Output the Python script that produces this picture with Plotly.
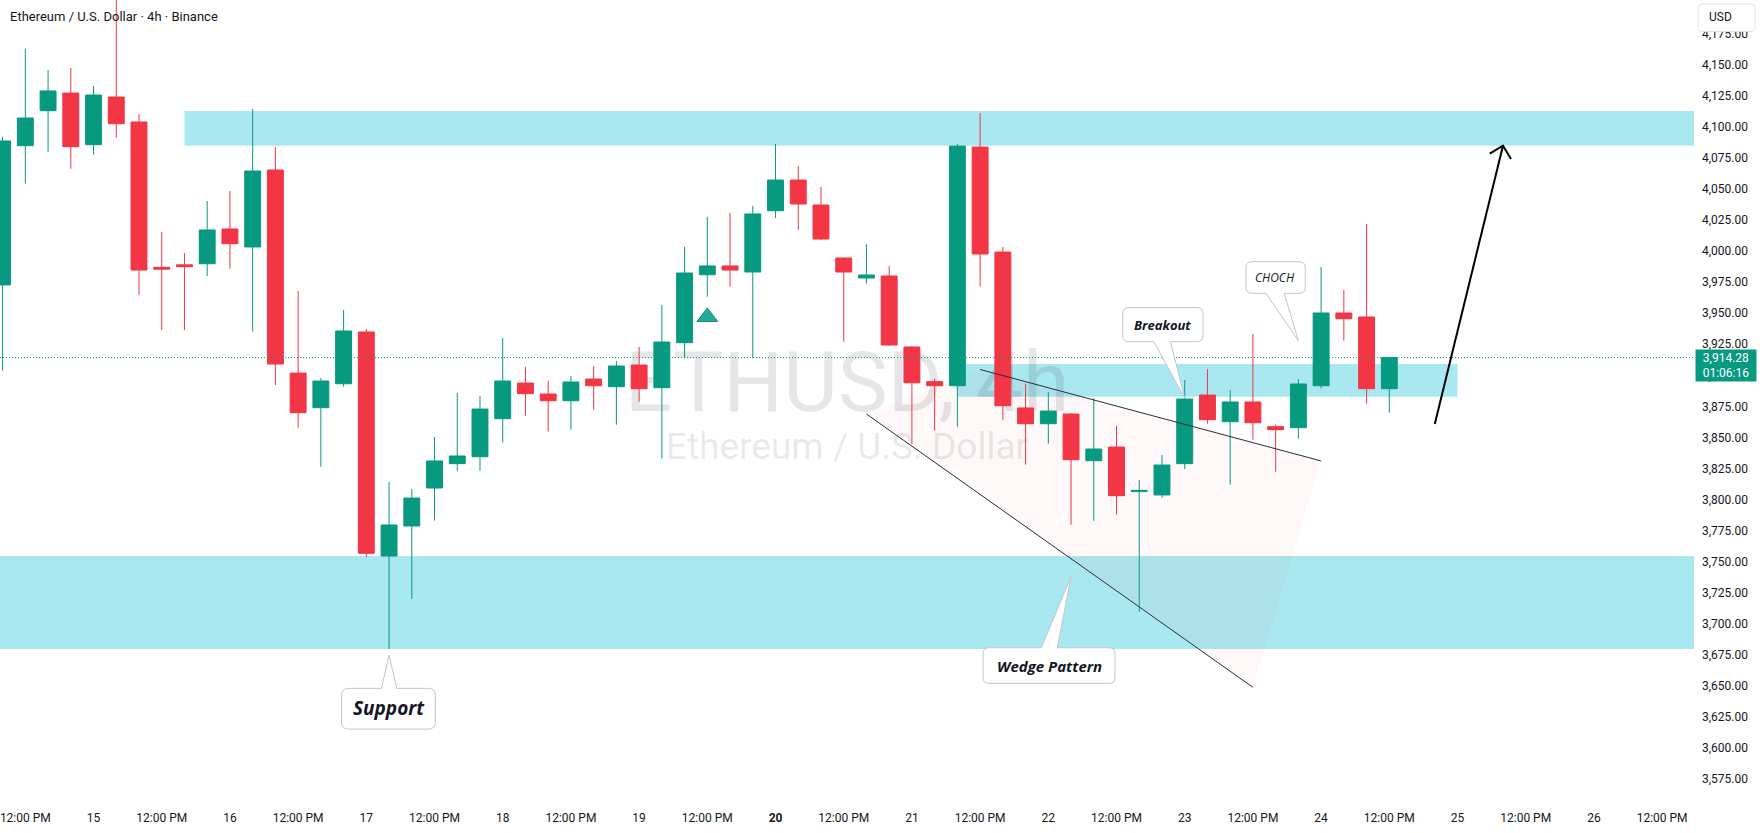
import math
import pandas as pd
import plotly.graph_objects as go

# ------------------------------------------------------------------ data
start_time = "2025-10-14 08:00"      # first (partly visible) 4h candle
bar_hours = 4

opens = [3972.8, 4085.0, 4113.2, 4127.4, 4085.8, 4124.2, 4104.1, 3987.0, 3989.0, 3989.9,
         4017.9, 4003.4, 4065.4, 3901.8, 3873.9, 3893.2, 3934.9, 3754.4, 3778.6, 3809.2,
         3828.8, 3834.4, 3865.0, 3893.8, 3884.9, 3879.5, 3897.0, 3890.8, 3908.3, 3890.0,
         3926.3, 3981.0, 3988.1, 3983.2, 4032.6, 4057.3, 4037.2, 3994.5, 3978.4, 3980.0,
         3922.8, 3894.9, 3891.6, 4083.9, 3999.3, 3873.7, 3861.0, 3868.8, 3831.2, 3842.2,
         3806.3, 3803.6, 3828.8, 3884.1, 3862.6, 3878.5, 3858.6, 3857.8, 3891.6, 3950.2,
         3947.0, 3889.2]
highs = [4092.2, 4162.9, 4146.0, 4147.6, 4133.1, 4215.0, 4110.5, 4015.5, 3998.5, 4040.4,
         4048.5, 4114.6, 4083.9, 3967.9, 3897.8, 3952.6, 3937.3, 3814.0, 3808.4, 3850.3,
         3885.7, 3883.3, 3930.1, 3906.7, 3895.4, 3899.4, 3907.5, 3911.5, 3922.8, 3956.6,
         4003.4, 4027.5, 4030.8, 4036.4, 4086.4, 4068.6, 4051.7, 3995.0, 4005.8, 3988.1,
         3923.6, 3897.3, 4086.4, 4111.3, 4003.4, 3893.2, 3886.5, 3869.5, 3881.7, 3859.4,
         3815.6, 3835.8, 3896.2, 3905.1, 3888.1, 3933.3, 3860.2, 3897.0, 3987.3, 3968.7,
         4021.9, 3914.7]
lows = [3903.7, 4054.4, 4080.1, 4066.5, 4077.7, 4091.4, 3964.7, 3936.5, 3936.5, 3980.0,
        3985.9, 3935.1, 3892.2, 3857.8, 3826.4, 3890.8, 3753.4, 3679.5, 3719.8, 3782.9,
        3822.9, 3822.9, 3845.7, 3867.5, 3854.6, 3856.2, 3872.3, 3860.2, 3878.7, 3832.8,
        3913.7, 3963.3, 3971.4, 3913.7, 4026.7, 4017.1, 4009.0, 3927.1, 3974.1, 3923.6,
        3844.4, 3855.4, 3858.6, 3971.4, 3864.2, 3828.0, 3844.9, 3779.6, 3782.8, 3787.7,
        3709.5, 3801.4, 3824.5, 3861.0, 3811.9, 3848.1, 3822.3, 3848.9, 3889.5, 3927.9,
        3877.1, 3869.9]
closes = [4088.8, 4107.3, 4129.1, 4084.2, 4125.8, 4102.7, 3984.8, 3985.5, 3987.5, 4017.1,
          4006.0, 4064.6, 3909.1, 3869.9, 3895.4, 3935.7, 3756.6, 3779.4, 3801.1, 3831.0,
          3835.0, 3872.8, 3895.4, 3885.2, 3879.5, 3894.6, 3891.6, 3907.5, 3889.2, 3926.8,
          3982.4, 3988.1, 3984.8, 4030.0, 4057.3, 4038.0, 4009.8, 3983.2, 3980.8, 3924.4,
          3894.0, 3891.6, 4084.7, 3997.7, 3875.5, 3861.0, 3871.2, 3832.0, 3840.6, 3803.0,
          3807.3, 3827.7, 3880.9, 3864.2, 3878.5, 3861.8, 3856.2, 3893.0, 3950.2, 3945.6,
          3889.2, 3914.28]

x_tick_bars = [1, 4, 7, 10, 13, 16, 19, 22, 25, 28, 31, 34, 37, 40, 43, 46, 49, 52, 55, 58,
               61, 64, 67, 70, 73]
x_tick_labels = ["12:00 PM", "15", "12:00 PM", "16", "12:00 PM", "17", "12:00 PM", "18",
                 "12:00 PM", "19", "12:00 PM", "<b>20</b>", "12:00 PM", "21", "12:00 PM", "22",
                 "12:00 PM", "23", "12:00 PM", "24", "12:00 PM", "25", "12:00 PM", "26",
                 "12:00 PM"]
price_ticks = [3575, 3600, 3625, 3650, 3675, 3700, 3725, 3750, 3775, 3800, 3825, 3850, 3875,
               3900, 3925, 3950, 3975, 4000, 4025, 4050, 4075, 4100, 4125, 4150, 4175]

zone_lows = [4085.0, 3882.8, 3679.5]
zone_highs = [4112.9, 3909.1, 3754.4]
zone_start_bars = [8, 42, -10]
zone_end_bars = [90, 64, 90]

wedge_upper_bars = [43, 58]
wedge_upper_prices = [3904.7, 3831.0]
wedge_lower_bars = [38, 55]
wedge_lower_prices = [3868.8, 3648.6]

arrow_bars = [63, 66]
arrow_prices = [3860.8, 4085.0]

callout_texts = ["Support", "Wedge Pattern", "Breakout", "CHOCH"]
callout_bars = [17, 47, 52, 57]
callout_prices = [3674.6, 3737.7, 3881.5, 3927.9]

signal_bars = [31]
signal_prices = [3947.0]

last_price = 3914.28
countdown = "01:06:16"
title_text = "Ethereum / U.S. Dollar · 4h · Binance"
watermark_main = "ETHUSD, 4h"
watermark_sub = "Ethereum / U.S. Dollar"
currency = "USD"

# ------------------------------------------------------------------ style / layout
W, H = 1760, 833
M_R, M_B = 66, 28
PLOT_W, PLOT_H = W - M_R, H - M_B
BAR_PX = 22.733          # pixel width of one 4h bar
FIRST_BAR_PX = 2.6       # pixel x of the first bar
PX_PER_USD = 1.2412
REF_PRICE, REF_PX = 4150, 65

GREEN = "#089981"
RED = "#F23645"
ZONE = "#A9E8F0"
TEXT = "#131722"
BUBBLE_LINE = "#C2C5CE"


def bar_time(b):
    return pd.Timestamp(start_time) + pd.Timedelta(hours=bar_hours * b)


def ts(b):
    return bar_time(b).strftime("%Y-%m-%d %H:%M:%S")


def path_ts(b):
    return bar_time(b).strftime("%Y-%m-%d_%H:%M:%S")


def px_to_bar(px):
    return (px - FIRST_BAR_PX) / BAR_PX


def px_to_price(py):
    return REF_PRICE - (py - REF_PX) / PX_PER_USD


times = pd.date_range(start_time, periods=len(opens), freq=f"{bar_hours}h")
x_lo, x_hi = px_to_bar(0), px_to_bar(PLOT_W)
y_hi = px_to_price(0)
y_lo = px_to_price(PLOT_H)


def rounded_path(left, right, top, bottom, r, tail=None, tail_on_top=True):
    """pixel path (y up) of a rounded box, optional speech-bubble tail to (0,0)"""
    p = [f"M{left + r},{top}"]
    if tail and tail_on_top:
        p += [f"L{tail[0]},{top}", "L0,0", f"L{tail[1]},{top}"]
    p += [f"L{right - r},{top}", f"Q{right},{top} {right},{top - r}",
          f"L{right},{bottom + r}", f"Q{right},{bottom} {right - r},{bottom}"]
    if tail and not tail_on_top:
        p += [f"L{tail[1]},{bottom}", "L0,0", f"L{tail[0]},{bottom}"]
    p += [f"L{left + r},{bottom}", f"Q{left},{bottom} {left},{bottom + r}",
          f"L{left},{top - r}", f"Q{left},{top} {left + r},{top}", "Z"]
    return " ".join(p)


fig = go.Figure()

fig.add_trace(go.Candlestick(
    x=times, open=opens, high=highs, low=lows, close=closes,
    increasing=dict(line=dict(color=GREEN, width=1), fillcolor=GREEN),
    decreasing=dict(line=dict(color=RED, width=1), fillcolor=RED),
    whiskerwidth=0, showlegend=False, hoverinfo="skip"))

fig.add_trace(go.Scatter(
    x=[bar_time(b) for b in signal_bars], y=signal_prices, mode="markers",
    marker=dict(symbol="triangle-up", size=18, color="#22AB94",
                line=dict(color="#168A75", width=1)),
    showlegend=False, hoverinfo="skip"))

shapes = []
# zones
for lo, hi, b0, b1 in zip(zone_lows, zone_highs, zone_start_bars, zone_end_bars):
    shapes.append(dict(type="rect", xref="x", yref="y", x0=ts(b0), x1=ts(b1), y0=lo, y1=hi,
                       fillcolor=ZONE, line=dict(width=0), layer="below"))

# watermark (below candles, above zones)
wm_bar = px_to_bar(PLOT_W / 2)
for txt, py, size in [(watermark_main, 376, 84), (watermark_sub, 443.5, 37)]:
    pc = px_to_price(py)
    shapes.append(dict(type="rect", xref="x", yref="y", x0=ts(wm_bar - 8), x1=ts(wm_bar + 8),
                       y0=pc - 0.5, y1=pc + 0.5, line=dict(width=0),
                       fillcolor="rgba(0,0,0,0)", layer="below",
                       label=dict(text=txt, textposition="middle center",
                                  font=dict(family="Roboto", size=size,
                                            color="rgba(19,23,34,0.105)"))))

# wedge fill
wedge_path = (f"M{path_ts(wedge_lower_bars[0])},{wedge_lower_prices[0]} "
              f"L{path_ts(wedge_upper_bars[0])},{wedge_upper_prices[0]} "
              f"L{path_ts(wedge_upper_bars[1])},{wedge_upper_prices[1]} "
              f"L{path_ts(wedge_lower_bars[1])},{wedge_lower_prices[1]} Z")
shapes.append(dict(type="path", xref="x", yref="y", path=wedge_path,
                   fillcolor="rgba(242,54,69,0.035)", line=dict(width=0), layer="below"))

# wedge lines
for bars, prices in [(wedge_upper_bars, wedge_upper_prices), (wedge_lower_bars, wedge_lower_prices)]:
    shapes.append(dict(type="line", xref="x", yref="y", x0=ts(bars[0]), y0=prices[0],
                       x1=ts(bars[1]), y1=prices[1], line=dict(color="#2A2E39", width=1)))

# last price dotted line
shapes.append(dict(type="line", xref="paper", yref="y", x0=0, x1=1, y0=last_price, y1=last_price,
                   line=dict(color=GREEN, width=1, dash="1px,2px")))

# projection arrow
shapes.append(dict(type="line", xref="x", yref="y", x0=ts(arrow_bars[0]), y0=arrow_prices[0],
                   x1=ts(arrow_bars[1]), y1=arrow_prices[1], line=dict(color="#000000", width=2)))
dxp = (arrow_bars[1] - arrow_bars[0]) * BAR_PX
dyp = (arrow_prices[1] - arrow_prices[0]) * PX_PER_USD
ln = math.hypot(dxp, dyp)
bx, by = -dxp / ln, -dyp / ln
head = []
for ang in (math.radians(45), math.radians(-45)):
    head.append((15.5 * (bx * math.cos(ang) - by * math.sin(ang)),
                 15.5 * (bx * math.sin(ang) + by * math.cos(ang))))
shapes.append(dict(type="path", xref="x", yref="y", xsizemode="pixel", ysizemode="pixel",
                   xanchor=ts(arrow_bars[1]), yanchor=arrow_prices[1],
                   path=f"M{head[0][0]:.2f},{head[0][1]:.2f} L0,0 L{head[1][0]:.2f},{head[1][1]:.2f}",
                   fillcolor="rgba(0,0,0,0)", line=dict(color="#000000", width=2)))

# callout bubbles: (left, right, top, bottom, tail, tail_on_top, radius, text_dx, text_dy, size, weight)
bubble_geo = [
    (-47.5, 46.3, -33.3, -74.0, (-7.6, 7.7), True, 7, -0.5, -53.0, 19, "bold"),
    (-88.0, 44.0, -71.0, -106.6, (-29.8, -13.8), True, 6, -22.0, -88.8, 15, "bold"),
    (-62.0, 18.3, 90.6, 56.6, (-30.9, -14.2), False, 6, -22.0, 73.6, 13, "bold"),
    (-52.4, 6.9, 79.0, 47.4, (-32.5, -14.2), False, 6, -23.0, 63.2, 12, "normal"),
]
annotations = []
for txt, b, pr, g in zip(callout_texts, callout_bars, callout_prices, bubble_geo):
    l, r, t, btm, tail, on_top, rad, tdx, tdy, fs, fw = g
    shapes.append(dict(type="path", xref="x", yref="y", xsizemode="pixel", ysizemode="pixel",
                       xanchor=ts(b), yanchor=pr,
                       path=rounded_path(l, r, t, btm, rad, tail, on_top),
                       fillcolor="#FFFFFF", line=dict(color=BUBBLE_LINE, width=1)))
    annotations.append(dict(xref="x", yref="y", x=ts(b), y=pr, xshift=tdx, yshift=tdy,
                            text=txt, showarrow=False, xanchor="center", yanchor="middle",
                            font=dict(family="Open Sans", size=fs, color=TEXT,
                                      style="italic", weight=fw)))

# currency box on price scale
shapes.append(dict(type="path", xref="paper", yref="paper", xsizemode="pixel", ysizemode="pixel",
                   xanchor=1, yanchor=1, path=rounded_path(4, 61, -4, -31.5, 4),
                   fillcolor="#FFFFFF", line=dict(color="#E0E3EB", width=1)))
annotations.append(dict(xref="paper", yref="paper", x=1, y=1, xanchor="left", yanchor="middle",
                        xshift=12.5, yshift=-17, text=currency, showarrow=False,
                        font=dict(family="Roboto", size=12, color=TEXT)))

# last price label
annotations.append(dict(xref="paper", yref="y", x=1, y=last_price, xanchor="left", yanchor="middle",
                        xshift=1, yshift=-8, width=60, height=31, borderpad=0, align="center",
                        bgcolor=GREEN, showarrow=False,
                        text=f"{last_price:,.2f}<br>{countdown}",
                        font=dict(family="Roboto", size=12, color="#FFFFFF")))

# title
annotations.append(dict(xref="paper", yref="paper", x=0, y=1, xanchor="left", yanchor="middle",
                        xshift=8, yshift=-16.7, text=title_text, showarrow=False,
                        font=dict(family="Roboto", size=13, color=TEXT)))

fig.update_layout(
    width=W, height=H,
    margin=dict(l=0, r=M_R, t=0, b=M_B, pad=0),
    paper_bgcolor="#FFFFFF", plot_bgcolor="#FFFFFF",
    font=dict(family="Roboto", size=12, color=TEXT),
    showlegend=False, hovermode=False, dragmode=False,
    boxgap=0.3, boxgroupgap=0,
    shapes=shapes, annotations=annotations,
    xaxis=dict(type="date", range=[bar_time(x_lo), bar_time(x_hi)],
               rangeslider=dict(visible=False), showgrid=False, zeroline=False,
               showline=False, ticks="", tickvals=[bar_time(b) for b in x_tick_bars],
               ticktext=x_tick_labels, tickfont=dict(family="Roboto", size=12, color=TEXT),
               ticklabelstandoff=4, ticklabeloverflow="allow", fixedrange=True),
    yaxis=dict(side="right", range=[y_lo, y_hi], showgrid=False, zeroline=False,
               showline=False, ticks="", tickvals=price_ticks,
               ticktext=[f"{v:,.2f}" for v in price_ticks],
               tickfont=dict(family="Roboto", size=12, color=TEXT),
               ticklabelstandoff=7, ticklabeloverflow="allow", fixedrange=True),
)

fig.write_html("out.html", config={"displayModeBar": False})
